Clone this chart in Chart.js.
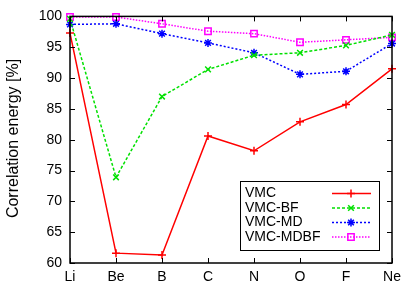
<!DOCTYPE html>
<html>
<head>
<meta charset="utf-8">
<script src="https://cdn.jsdelivr.net/npm/chart.js@4.4.0/dist/chart.umd.min.js"></script>
<style>
  html, body { margin: 0; padding: 0; background: #fff; }
  #wrap { width: 415px; height: 291px; }
</style>
</head>
<body>
<div id="wrap"><canvas id="chart" width="415" height="291"></canvas></div>
<script>
// Data
const atoms = ['Li', 'Be', 'B', 'C', 'N', 'O', 'F', 'Ne'];
const vmc = [97.3, 61.6, 61.3, 80.6, 78.2, 82.9, 85.7, 91.5];
const vmcBF = [99.6, 73.9, 87.0, 91.4, 93.7, 94.1, 95.3, 97.0];
const vmcMD = [98.7, 98.8, 97.2, 95.7, 94.1, 90.6, 91.1, 95.6];
const vmcMDBF = [99.9, 99.9, 98.8, 97.6, 97.2, 95.8, 96.2, 96.6];
const yTicks = [60, 65, 70, 75, 80, 85, 90, 95, 100];
const yTitle = 'Correlation energy [%]';

const FONT = '"Liberation Sans", Arial, sans-serif';

// gnuplot-like frame with inward ticks on all four sides, plus y title
const framePlugin = {
    id: 'frame',
    afterDatasetsDraw(chart) {
        const { ctx, chartArea: a, scales } = chart;
        ctx.save();
        ctx.strokeStyle = '#000';
        ctx.lineWidth = 1.5;
        ctx.strokeRect(a.left, a.top, a.right - a.left, a.bottom - a.top);
        ctx.lineWidth = 1;
        ctx.beginPath();
        yTicks.forEach(v => {
            const y = Math.round(scales.y.getPixelForValue(v)) + 0.5;
            ctx.moveTo(a.left, y); ctx.lineTo(a.left + 5, y);
            ctx.moveTo(a.right, y); ctx.lineTo(a.right - 5, y);
        });
        atoms.forEach((c, i) => {
            const x = Math.round(scales.x.getPixelForValue(i)) + 0.5;
            ctx.moveTo(x, a.bottom); ctx.lineTo(x, a.bottom - 5);
            ctx.moveTo(x, a.top); ctx.lineTo(x, a.top + 5);
        });
        ctx.stroke();

        ctx.translate(14, 138.5);
        ctx.rotate(-Math.PI / 2);
        ctx.fillStyle = '#000';
        ctx.font = '16px ' + FONT;
        ctx.textAlign = 'center';
        ctx.textBaseline = 'middle';
        ctx.fillText(yTitle, 0, 0);
        ctx.restore();
    }
};

// legend box inside the plot, sample lines on the right
const boxLegend = {
    id: 'boxLegend',
    afterDraw(chart) {
        const { ctx } = chart;
        const bx = 240, by = 181, bw = 139, bh = 69;
        ctx.save();
        ctx.fillStyle = '#fff';
        ctx.fillRect(bx, by, bw, bh);
        ctx.strokeStyle = '#000';
        ctx.lineWidth = 1;
        ctx.strokeRect(bx + 0.5, by + 0.5, bw, bh);
        ctx.font = '14px ' + FONT;
        ctx.textBaseline = 'middle';
        chart.data.datasets.forEach((ds, i) => {
            const y = 193.5 + i * 14.5;
            ctx.fillStyle = '#000';
            ctx.fillText(ds.label, 245, y);
            ctx.strokeStyle = ds.borderColor;
            ctx.lineWidth = ds.borderWidth;
            ctx.setLineDash(ds.borderDash || []);
            ctx.beginPath();
            ctx.moveTo(332, y); ctx.lineTo(371, y);
            ctx.stroke();
            ctx.setLineDash([]);
            ctx.fillStyle = ds.pointBackgroundColor;
            ctx.lineWidth = ds.pointBorderWidth;
            Chart.helpers.drawPoint(ctx, {
                pointStyle: ds.pointStyle, radius: ds.pointRadius,
                borderWidth: ds.pointBorderWidth, rotation: 0
            }, 351, y);
        });
        ctx.restore();
    }
};

function series(label, data, color, dash, style, radius) {
    return {
        label: label,
        data: data,
        borderColor: color,
        backgroundColor: color,
        borderWidth: 1.5,
        borderDash: dash,
        pointStyle: style,
        pointRadius: radius,
        pointBorderWidth: 1.5,
        pointBackgroundColor: style === 'rect' ? 'rgba(0,0,0,0)' : color,
        tension: 0,
        fill: false,
        clip: 8
    };
}

new Chart(document.getElementById('chart').getContext('2d'), {
    type: 'line',
    data: {
        labels: atoms,
        datasets: [
            series('VMC', vmc, '#ff0000', [], 'cross', 4),
            series('VMC-BF', vmcBF, '#00e000', [3, 2], 'crossRot', 4),
            series('VMC-MD', vmcMD, '#0000ff', [2, 2], 'star', 4),
            series('VMC-MDBF', vmcMDBF, '#ff00ff', [1.5, 1.5], 'rect', 4.5)
        ]
    },
    options: {
        responsive: false,
        animation: false,
        layout: { padding: { top: 16, right: 23, left: 0, bottom: 0 } },
        plugins: {
            legend: { display: false },
            tooltip: { enabled: false }
        },
        scales: {
            x: {
                type: 'category',
                offset: false,
                grid: { display: false, drawTicks: false },
                border: { display: false },
                ticks: {
                    color: '#000',
                    font: { family: FONT, size: 14 },
                    padding: 6,
                    maxRotation: 0,
                    autoSkip: false
                },
                afterFit(scale) { scale.height = 28; }
            },
            y: {
                min: 60,
                max: 100,
                grid: { display: false, drawTicks: false },
                border: { display: false },
                afterBuildTicks(scale) {
                    scale.ticks = yTicks.map(v => ({ value: v }));
                },
                ticks: {
                    color: '#000',
                    font: { family: FONT, size: 14 },
                    padding: 8
                },
                afterFit(scale) { scale.width = 70; }
            }
        }
    },
    plugins: [framePlugin, boxLegend]
});
</script>
</body>
</html>
